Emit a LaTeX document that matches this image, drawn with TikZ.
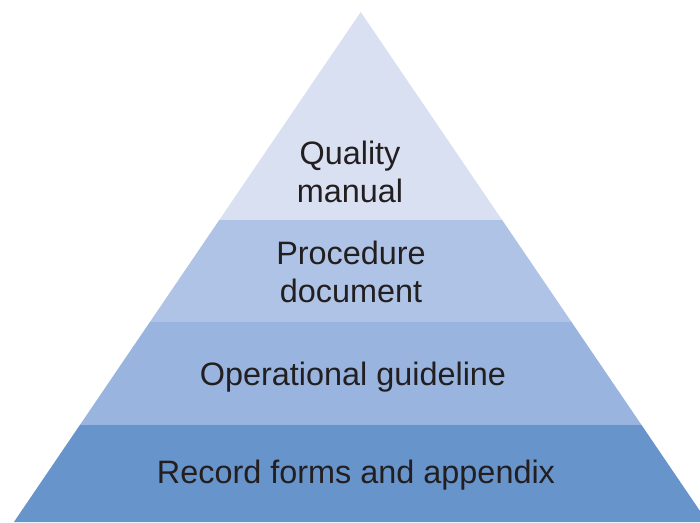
\documentclass[tikz,border=0pt]{standalone}
\usepackage{fontspec}
\setmainfont{Liberation Sans}
\begin{document}
\begin{tikzpicture}[x=1pt,y=-1pt,
  tier/.style={draw=none},
  label/.style={text=labeltext, align=center,
    font=\fontsize{32.4}{38}\selectfont, inner sep=0pt}]
\definecolor{tierA}{HTML}{D9E0F1}
\definecolor{tierB}{HTML}{AFC3E6}
\definecolor{tierC}{HTML}{98B4DF}
\definecolor{tierD}{HTML}{6894CC}
\definecolor{labeltext}{HTML}{231F20}
\useasboundingbox (0,0) rectangle (700,522);
% corner points of the pyramid; sides have slope 0.68 px per px of height
\coordinate (apex) at (360.7,12);
% four stacked tiers, apex down to base
\fill[tier, tierA] (apex) -- (360.7-0.68*208,220) -- (360.7+0.68*208,220) -- cycle;
\fill[tier, tierB] (360.7-0.68*208,220) -- (360.7+0.68*208,220) -- (360.7+0.68*310,322) -- (360.7-0.68*310,322) -- cycle;
\fill[tier, tierC] (360.7-0.68*310,322) -- (360.7+0.68*310,322) -- (360.7+0.68*413,425) -- (360.7-0.68*413,425) -- cycle;
\fill[tier, tierD] (360.7-0.68*413,425) -- (360.7+0.68*413,425) -- (360.7+0.68*510,522) -- (360.7-0.68*510,522) -- cycle;
% tier labels
\node[label] (quality) at (350,172) {Quality\\manual};
\node[label] (procedure) at (351,272) {Procedure\\document};
\node[label] (operational) at (353,377) {Operational guideline};
\node[label] (record) at (356,475) {Record forms and appendix};
\end{tikzpicture}
\end{document}
